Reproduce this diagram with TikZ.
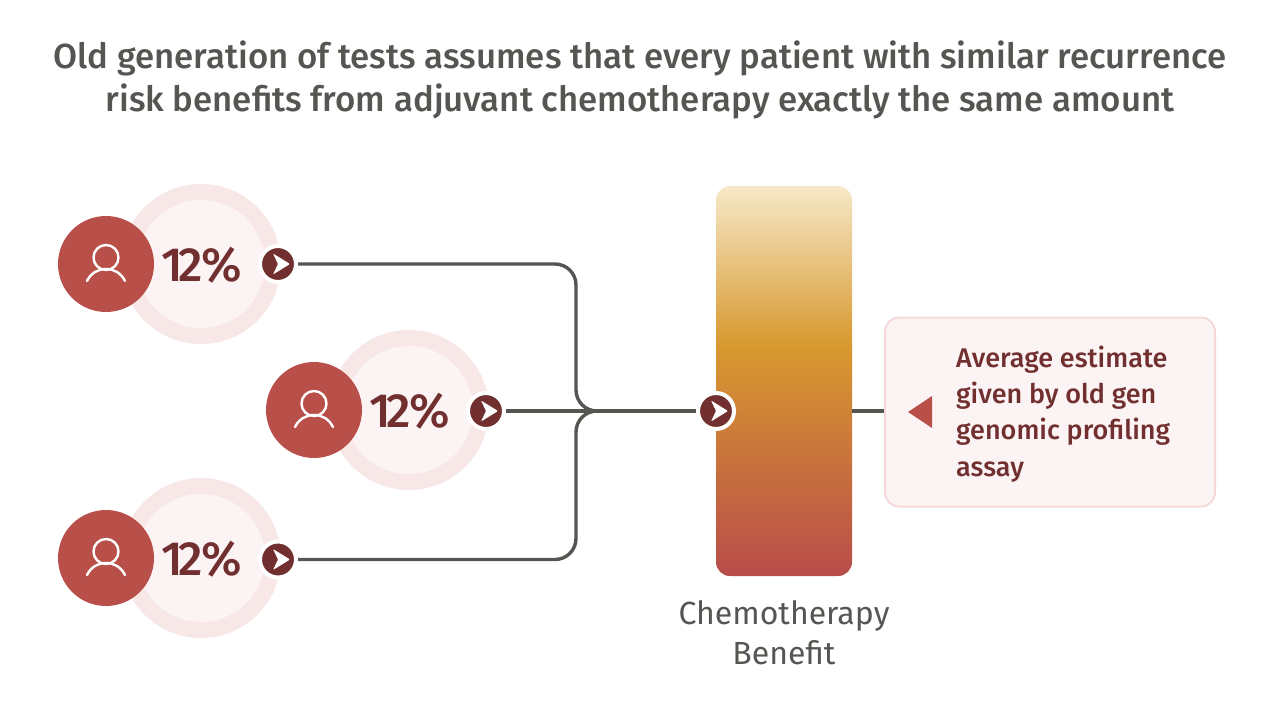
\documentclass[tikz,border=0pt]{standalone}
\usepackage{fontspec}
\setmainfont{Fira Sans}[UprightFont=* Medium]
\newfontfamily\plainf{Fira Sans}
\definecolor{redc}{HTML}{B85049}
\definecolor{darkc}{HTML}{722F2F}
\definecolor{ringc}{HTML}{F7E8E7}
\definecolor{innerc}{HTML}{FBF3F4}
\definecolor{edgec}{HTML}{F5D9D9}
\definecolor{greyc}{HTML}{555552}
\definecolor{bara}{HTML}{F6E8C8}
\definecolor{barb}{HTML}{D8992F}
\definecolor{barc}{HTML}{B84C4A}
\pgfdeclareverticalshading{barshade}{100bp}{color(0bp)=(barc);color(25bp)=(barc);color(54.5bp)=(barb);color(75bp)=(bara);color(100bp)=(bara)}
\newcommand{\pctext}{1\kern-4pt 2\kern-2pt\%}
\tikzset{
 ringdisc/.style={circle,fill=ringc,minimum size=160pt,inner sep=0pt},
 innerdisc/.style={circle,fill=innerc,minimum size=128pt,inner sep=0pt},
 reddisc/.style={circle,fill=redc,minimum size=96pt,inner sep=0pt},
 chev/.style={circle,fill=darkc,draw=white,line width=4pt,minimum size=36pt,inner sep=0pt,outer sep=2pt},
 pct/.style={text=darkc,font=\fontsize{48}{48}\selectfont,inner sep=0pt},
 link/.style={draw=greyc,line width=3.4pt,rounded corners=21pt},
 personicon/.pic={
  \draw[white,line width=2.4pt,line cap=round] (0,-6.5) circle[radius=12.5pt];
  \draw[white,line width=2.4pt,line cap=round] (-19,17) .. controls (-15,9) and (-8,5) .. (0,5) .. controls (8,5) and (15,9) .. (19,17);
 },
 chevglyph/.pic={
  \fill[white,rounded corners=1pt] (12,0) -- (-5,-10.5) -- (0,0) -- (-5,10.5) -- cycle;
 }
}
\begin{document}
\begin{tikzpicture}[x=1pt,y=-1pt]
\useasboundingbox (0,0) rectangle (1280,720);
\node[text=greyc,font=\fontsize{34.8}{43}\selectfont,align=center,inner sep=0pt] (title) at (640,80) {Old generation of tests assumes that every patient with similar recurrence\\risk benefits from adjuvant chemotherapy exactly the same amount};

% row 1
\node[ringdisc] (ring1) at (201,264) {};
\node[innerdisc] (inner1) at (201,264) {};
\node[reddisc] (person1) at (106,264) {};
\pic at (person1) {personicon};
\node[pct] (pct1) at (201.5,265.5) {\pctext};
\node[chev] (chev1) at (278,264) {};
\pic at (chev1) {chevglyph};
% row 2
\node[ringdisc] (ring2) at (409,410) {};
\node[innerdisc] (inner2) at (409,410) {};
\node[reddisc] (person2) at (314,410) {};
\pic at (person2) {personicon};
\node[pct] (pct2) at (409.5,411.5) {\pctext};
\node[chev] (chev2) at (486,411) {};
\pic at (chev2) {chevglyph};
% row 3
\node[ringdisc] (ring3) at (201,558) {};
\node[innerdisc] (inner3) at (201,558) {};
\node[reddisc] (person3) at (106,558) {};
\pic at (person3) {personicon};
\node[pct] (pct3) at (201.5,559.5) {\pctext};
\node[chev] (chev3) at (278,559.5) {};
\pic at (chev3) {chevglyph};

% bar
\node[shading=barshade,rounded corners=14pt,minimum width=136pt,minimum height=390pt,inner sep=0pt] (bar) at (784,381) {};
\node[chev] (chev4) at (716,411) {};
\pic at (chev4) {chevglyph};

% callout
\node[draw=edgec,fill=innerc,line width=2pt,rounded corners=14pt,minimum width=330pt,minimum height=189pt,inner sep=0pt] (call) at (1050,412) {};
\node[text=darkc,font=\fontsize{27}{36.3}\selectfont,align=left,anchor=west,inner sep=0pt] (calltext) at (956,414) {Average estimate\\given by old gen\\genomic profiling\\assay};
\fill[redc] (908,412) -- (932,396) -- (932,428) -- cycle;

\node[text=greyc,font=\plainf\fontsize{32}{40}\selectfont,align=center,inner sep=0pt] (barlabel) at (784,633) {Chemotherapy\\Benefit};

% connectors
\coordinate (jn) at (597,411);
\coordinate (sp) at (576,411);
\draw[link] (chev1.east) -- (sp |- chev1.east) -- (sp) -- (jn);
\draw[link] (chev3.east) -- (sp |- chev3.east) -- (sp) -- (jn);
\draw[link] (chev2.east) -- (jn);
\draw[link] (jn) -- (chev4.west);
\draw[link] (chev4 -| bar.east) -- (chev4 -| call.west);
\end{tikzpicture}
\end{document}
